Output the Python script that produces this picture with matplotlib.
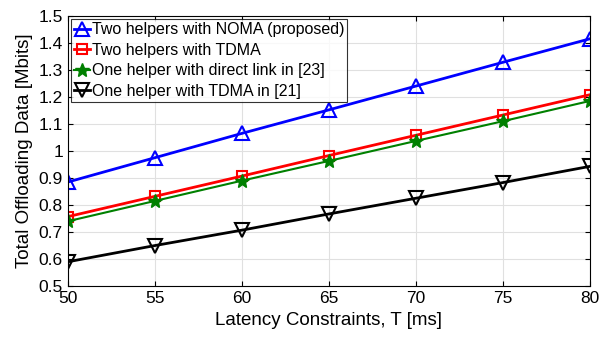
import numpy as np
import matplotlib
matplotlib.use("Agg")
import matplotlib.pyplot as plt

plt.rcParams['font.family'] = ['Liberation Sans', 'DejaVu Sans']

latency = [50, 55, 60, 65, 70, 75, 80]
noma_two = [0.885, 0.975, 1.065, 1.152, 1.240, 1.328, 1.415]
tdma_two = [0.757, 0.832, 0.907, 0.983, 1.058, 1.133, 1.208]
direct_one = [0.740, 0.815, 0.890, 0.963, 1.037, 1.110, 1.185]
tdma_one = [0.590, 0.650, 0.707, 0.767, 0.825, 0.883, 0.943]

fig = plt.figure(figsize=(6, 3.37), dpi=100)
ax = fig.add_axes([0.113, 0.151, 0.870, 0.802])

ax.plot(latency, noma_two, color='#0000ff', lw=2, marker='^', ms=10, mfc='none', mew=1.5,
        label='Two helpers with NOMA (proposed)')
ax.plot(latency, tdma_two, color='#ff0000', lw=2, marker='s', ms=7, mfc='none', mew=1.5,
        label='Two helpers with TDMA')
ax.plot(latency, direct_one, color='#008000', lw=1.5, marker='*', ms=10,
        label='One helper with direct link in [23]')
ax.plot(latency, tdma_one, color='black', lw=2, marker='v', ms=10, mfc='none', mew=1.5,
        label='One helper with TDMA in [21]')

ax.set_xlim(50, 80)
ax.set_ylim(0.5, 1.5)
ax.set_xticks(latency)
ax.set_yticks(np.arange(0.5, 1.51, 0.1))
ax.set_yticklabels(['0.5', '0.6', '0.7', '0.8', '0.9', '1', '1.1', '1.2', '1.3', '1.4', '1.5'])
ax.tick_params(direction='in', labelsize=12.5, top=True, right=True)
ax.grid(True, color='#e0e0e0', lw=0.8)
ax.set_axisbelow(True)
ax.set_xlabel('Latency Constraints, T [ms]', fontsize=13.5)
ax.set_ylabel('Total Offloading Data [Mbits]', fontsize=13.5)

leg = ax.legend(loc='upper left', fontsize=11.5, handlelength=1.0, handletextpad=0.1,
                borderpad=0.2, labelspacing=0.35, fancybox=False, edgecolor='black',
                borderaxespad=0.2)
leg.get_frame().set_linewidth(0.8)

fig.savefig('out.png', dpi=100)
